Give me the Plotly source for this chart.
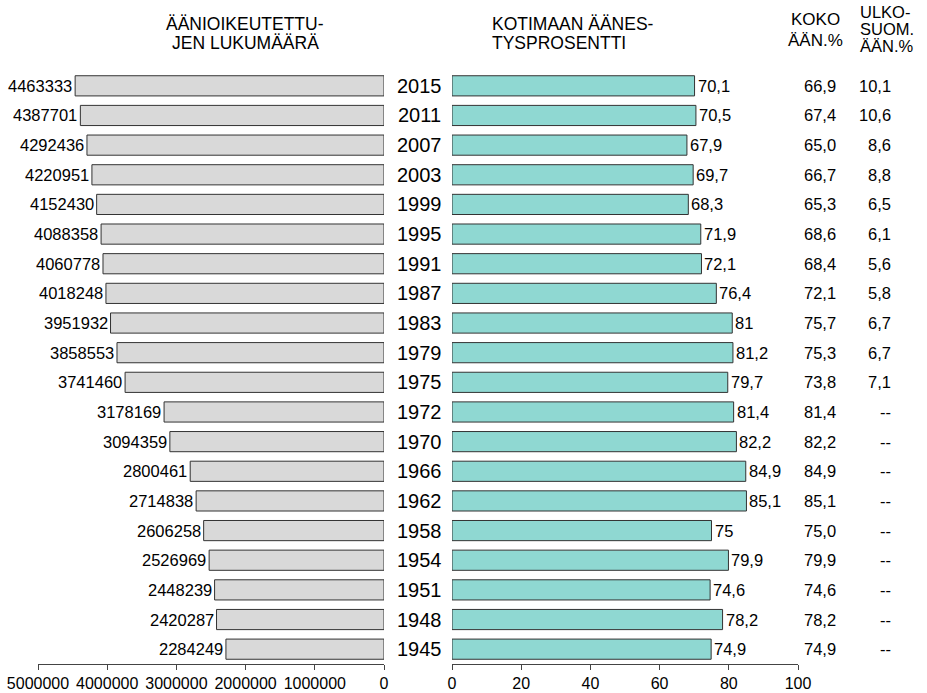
import plotly.graph_objects as go

years = [2015, 2011, 2007, 2003, 1999, 1995, 1991, 1987, 1983, 1979,
         1975, 1972, 1970, 1966, 1962, 1958, 1954, 1951, 1948, 1945]
eligible = [4463333, 4387701, 4292436, 4220951, 4152430, 4088358, 4060778,
            4018248, 3951932, 3858553, 3741460, 3178169, 3094359, 2800461,
            2714838, 2606258, 2526969, 2448239, 2420287, 2284249]
domestic = [70.1, 70.5, 67.9, 69.7, 68.3, 71.9, 72.1, 76.4, 81, 81.2,
            79.7, 81.4, 82.2, 84.9, 85.1, 75, 79.9, 74.6, 78.2, 74.9]
total = [66.9, 67.4, 65.0, 66.7, 65.3, 68.6, 68.4, 72.1, 75.7, 75.3,
         73.8, 81.4, 82.2, 84.9, 85.1, 75.0, 79.9, 74.6, 78.2, 74.9]
abroad = [10.1, 10.6, 8.6, 8.8, 6.5, 6.1, 5.6, 5.8, 6.7, 6.7,
          7.1, None, None, None, None, None, None, None, None, None]
left_ticks = [5000000, 4000000, 3000000, 2000000, 1000000, 0]
right_ticks = [0, 20, 40, 60, 80, 100]

W, H = 927, 693
TOP, BOT = 71, 29
FONT = "Liberation Sans, Arial, sans-serif"
ycat = [str(y) for y in years]
order = list(reversed(ycat))  # bottom to top

def px(x):
    return x / W

def py(y):
    return (H - BOT - y) / (H - TOP - BOT)

def fi(v):
    return ("%g" % v).replace(".", ",")

fig = go.Figure()
fig.add_trace(go.Bar(x=eligible, y=ycat, orientation="h", xaxis="x", yaxis="y",
                     marker=dict(color="#d9d9d9", line=dict(color="#333333", width=1)),
                     hoverinfo="skip"))
fig.add_trace(go.Bar(x=domestic, y=ycat, orientation="h", xaxis="x2", yaxis="y",
                     marker=dict(color="#8fd8d2", line=dict(color="#333333", width=1)),
                     hoverinfo="skip"))

VS = 16.5
ann = []
for yr, e, d, t, a in zip(ycat, eligible, domestic, total, abroad):
    yi = order.index(yr)
    ann.append(dict(x=e, y=yi, xref="x", yref="y", text=str(e), showarrow=False,
                    xanchor="right", xshift=-1, font=dict(size=VS, color="black")))
    ann.append(dict(x=d, y=yi, xref="x2", yref="y", text=fi(d), showarrow=False,
                    xanchor="left", xshift=1, font=dict(size=VS, color="black")))
    ann.append(dict(x=px(419), y=yi, xref="paper", yref="y", text=yr, showarrow=False,
                    xanchor="center", font=dict(size=20, color="black")))
    ann.append(dict(x=px(838), y=yi, xref="paper", yref="y",
                    text=("%.1f" % t).replace(".", ","), showarrow=False,
                    xanchor="right", font=dict(size=VS, color="black")))
    ann.append(dict(x=px(893), y=yi, xref="paper", yref="y",
                    text=("--" if a is None else ("%.1f" % a).replace(".", ",")),
                    showarrow=False, xanchor="right", font=dict(size=VS, color="black")))

headers = [
    ("ÄÄNIOIKEUTETTU-", 245, 24, "center", 17.5),
    ("JEN LUKUMÄÄRÄ", 245, 43, "center", 17.5),
    ("KOTIMAAN ÄÄNES-", 490, 24, "left", 17.5),
    ("TYSPROSENTTI", 490, 43, "left", 17.5),
    ("KOKO", 815, 20, "center", 17),
    ("ÄÄN.%", 815, 40, "center", 17),
    ("ULKO-", 858, 12, "left", 16.5),
    ("SUOM.", 858, 29, "left", 16.5),
    ("ÄÄN.%", 858, 46, "left", 16.5),
]
for txt, x, y, anc, fs in headers:
    ann.append(dict(x=px(x), y=py(y), xref="paper", yref="paper", text=txt,
                    showarrow=False, xanchor=anc, yanchor="middle",
                    font=dict(size=fs, color="black")))

axis_common = dict(showgrid=False, zeroline=False, showline=True, linecolor="#444444",
                   linewidth=1, ticks="outside", ticklen=5, tickcolor="#444444",
                   tickfont=dict(size=16, color="black"), fixedrange=True,
                   automargin=False)

fig.update_layout(
    width=W, height=H,
    margin=dict(l=0, r=0, t=TOP, b=BOT, pad=0, autoexpand=False),
    paper_bgcolor="white", plot_bgcolor="white",
    showlegend=False, bargap=0.32,
    font=dict(family=FONT, color="black"),
    xaxis=dict(domain=[px(38), px(384)], range=[5000000, 0], anchor="y",
               tickmode="array", tickvals=left_ticks,
               ticktext=[str(v) for v in left_ticks], **axis_common),
    xaxis2=dict(domain=[px(452), px(798)], range=[0, 100], anchor="y",
                tickmode="array", tickvals=right_ticks,
                ticktext=[str(v) for v in right_ticks], **axis_common),
    yaxis=dict(type="category", categoryorder="array",
               categoryarray=order, range=[-0.5, 19.5],
               showticklabels=False, showgrid=False, zeroline=False,
               showline=False, ticks="", fixedrange=True, automargin=False),
    annotations=ann,
)

fig.write_html("out.html", config={"displayModeBar": False, "staticPlot": True},
               post_script="document.body.style.margin='0';document.body.style.overflow='hidden';")
